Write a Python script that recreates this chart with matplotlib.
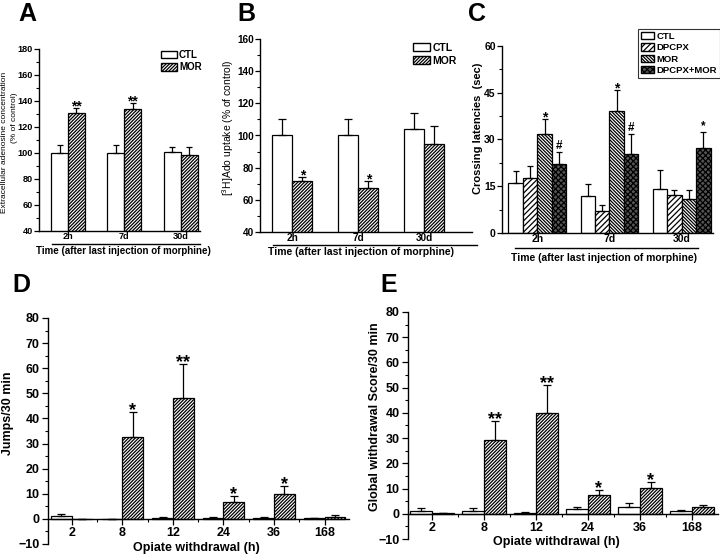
import matplotlib.pyplot as plt
import numpy as np
from matplotlib.lines import Line2D
from matplotlib.patches import Patch
from matplotlib.ticker import MultipleLocator

plt.rcParams["font.family"] = ["Liberation Sans", "DejaVu Sans"]
plt.rcParams["hatch.linewidth"] = 0.9
plt.rcParams["axes.linewidth"] = 1.0

NARROW = ["Liberation Sans Narrow", "Liberation Sans", "DejaVu Sans"]
HATCH = "/" * 10

# ---- data -------------------------------------------------------------
times = ["2h", "7d", "30d"]

# A: extracellular adenosine (% of control)
ado_ctl = [100, 100, 100.5]
ado_ctl_err = [6, 6, 4]
ado_mor = [130.5, 133.6, 98.5]
ado_mor_err = [3.9, 5.1, 6]
ado_marks = ["**", "**", ""]

# B: [3H]Ado uptake (% of control)
uptake_ctl = [100, 100, 104.3]
uptake_ctl_err = [10, 10, 9.7]
uptake_mor = [71.5, 67.5, 94.5]
uptake_mor_err = [2.5, 4.5, 11.5]
uptake_marks = ["*", "*", ""]

# C: crossing latencies (sec)
c_labels = ["CTL", "DPCPX", "MOR", "DPCPX+MOR"]
lat_ctl = [16.0, 12.0, 14.1]
lat_ctl_err = [3.9, 3.7, 6.0]
lat_dpcpx = [17.6, 7.0, 12.1]
lat_dpcpx_err = [3.9, 2.1, 1.8]
lat_mor = [31.8, 39.0, 11.0]
lat_mor_err = [4.9, 7.0, 2.9]
lat_dm = [22.1, 25.5, 27.3]
lat_dm_err = [3.8, 6.3, 5.1]
lat_mor_marks = ["*", "*", ""]
lat_dm_marks = ["#", "#", "*"]

# D/E: withdrawal
hours = ["2", "8", "12", "24", "36", "168"]
jumps_ctl = [1.1, 0.0, 0.3, 0.3, 0.3, 0.2]
jumps_ctl_err = [1.0, 0.0, 0.3, 0.3, 0.3, 0.1]
jumps_mor = [0.0, 32.7, 48.3, 6.6, 9.8, 0.9]
jumps_mor_err = [0.0, 9.9, 13.5, 2.5, 3.3, 0.5]
jumps_marks = ["", "*", "**", "*", "*", ""]

score_ctl = [1.1, 1.1, 0.5, 2.0, 2.8, 1.0]
score_ctl_err = [1.1, 1.1, 0.3, 0.7, 1.5, 0.3]
score_mor = [0.2, 29.4, 40.0, 7.4, 10.1, 2.6]
score_mor_err = [0.1, 7.3, 10.9, 1.9, 2.6, 0.8]
score_marks = ["", "**", "**", "*", "*", ""]

# ---- helpers ----------------------------------------------------------
W, H = 720, 555
fig = plt.figure(figsize=(W / 100, H / 100), dpi=100)


def add_axes_px(left, top, right, bottom):
    return fig.add_axes([left / W, 1 - bottom / H, (right - left) / W, (bottom - top) / H])


def text_px(x, y, s, **kw):
    fig.text(x / W, 1 - y / H, s, **kw)


def hline_px(x0, x1, y):
    fig.add_artist(Line2D([x0 / W, x1 / W], [1 - y / H, 1 - y / H], color="black",
                          linewidth=1.0, transform=fig.transFigure))


def bars(ax, x, vals, err, width, fc, hatch, cap):
    ax.bar(x, vals, width, color=fc, hatch=hatch, edgecolor="black", linewidth=0.9, zorder=2)
    ax.errorbar(x, vals, yerr=[np.zeros(len(err)), err], fmt="none", ecolor="black",
                elinewidth=0.9, capsize=cap, capthick=0.9, zorder=3)


def marks(ax, x, vals, err, labels, size, dy):
    for xi, yi, ei, m in zip(x, vals, err, labels):
        if m:
            ax.annotate(m, (xi, yi + ei), xytext=(0, dy), textcoords="offset points",
                        ha="center", va="bottom", fontsize=size, fontweight="bold")


def style_time_axis(ax, xlim, ylim, major, minor, fs):
    ax.set_xlim(xlim)
    ax.set_ylim(ylim)
    for s in ("top", "right"):
        ax.spines[s].set_visible(False)
    ax.set_xticks(range(len(times)))
    ax.set_xticklabels(times, family=NARROW, fontweight="bold", fontsize=fs)
    ax.tick_params(axis="x", length=0, pad=1)
    ax.yaxis.set_major_locator(MultipleLocator(major))
    ax.yaxis.set_minor_locator(MultipleLocator(minor))
    ax.tick_params(axis="y", which="major", length=3.5, width=0.9, pad=1)
    ax.tick_params(axis="y", which="minor", length=2, width=0.8)
    for t in ax.get_yticklabels():
        t.set_family(NARROW)
        t.set_fontweight("bold")
        t.set_fontsize(fs)


def legend_px(ax, handles, labels, x, y, fs, frame=False, hl=1.6):
    leg = ax.legend(handles, labels, loc="upper left", bbox_to_anchor=(x / W, 1 - y / H),
                    bbox_transform=fig.transFigure, frameon=frame,
                    handlelength=hl, handleheight=0.8, handletextpad=0.25,
                    labelspacing=0.25, borderpad=0.3 if frame else 0, borderaxespad=0,
                    prop={"family": NARROW, "weight": "bold", "size": fs})
    if frame:
        leg.get_frame().set_edgecolor("black")
        leg.get_frame().set_linewidth(0.8)
        leg.get_frame().set_boxstyle("square", pad=0)


x3 = np.arange(len(times))

# ---- A ----------------------------------------------------------------
axA = add_axes_px(39, 49, 200, 231)
bars(axA, x3 - 0.15, ado_ctl, ado_ctl_err, 0.3, "white", None, 2.2)
bars(axA, x3 + 0.15, ado_mor, ado_mor_err, 0.3, "white", HATCH, 2.2)
marks(axA, x3 + 0.15, ado_mor, ado_mor_err, ado_marks, 10, -4)
style_time_axis(axA, (-0.515, 2.343), (40, 180), 20, 10, 6.6)
legend_px(axA, [Patch(fc="white", ec="black"), Patch(fc="white", ec="black", hatch=HATCH)],
          ["CTL", "MOR"], 161, 50, 7)
hline_px(52, 200, 244)
text_px(123, 251, "Time (after last injection of morphine)", ha="center", va="center",
        fontsize=7, family=NARROW, fontweight="bold")
text_px(4.9, 142, "Extracellular adenosine concentration", rotation=90, ha="center",
        va="center", fontsize=6.0)
text_px(14.7, 118, "(% of control)", rotation=90, ha="center", va="center", fontsize=6.0)

# ---- B ----------------------------------------------------------------
axB = add_axes_px(260, 39, 472, 232)
bars(axB, x3 - 0.155, uptake_ctl, uptake_ctl_err, 0.31, "white", None, 2.6)
bars(axB, x3 + 0.155, uptake_mor, uptake_mor_err, 0.31, "white", HATCH, 2.6)
marks(axB, x3 + 0.155, uptake_mor, uptake_mor_err, uptake_marks, 10, -4)
style_time_axis(axB, (-0.485, 2.727), (40, 160), 20, 10, 7.2)
legend_px(axB, [Patch(fc="white", ec="black"), Patch(fc="white", ec="black", hatch=HATCH)],
          ["CTL", "MOR"], 413, 43, 7.5)
hline_px(273, 477, 245)
text_px(361, 252, "Time (after last injection of morphine)", ha="center", va="center",
        fontsize=7.5, family=NARROW, fontweight="bold")
text_px(228, 128, "[$^{3}$H]Ado uptake (% of control)", rotation=90, ha="center",
        va="center", fontsize=7.5)

# ---- C ----------------------------------------------------------------
axC = add_axes_px(502, 46, 713, 233)
c_styles = [("white", None), ("white", "//////"), ("white", "\\" * 10), ("#555555", "xxxxxx")]
c_vals = [(lat_ctl, lat_ctl_err), (lat_dpcpx, lat_dpcpx_err), (lat_mor, lat_mor_err),
          (lat_dm, lat_dm_err)]
bw = 0.2
for i, ((v, e), (fc, h)) in enumerate(zip(c_vals, c_styles)):
    bars(axC, x3 + (i - 1.5) * bw, v, e, bw, fc, h, 2.4)
marks(axC, x3 + 0.5 * bw, lat_mor, lat_mor_err, lat_mor_marks, 10, -4)
marks(axC, x3 + 1.5 * bw, lat_dm, lat_dm_err, lat_dm_marks, 8.5, 0)
style_time_axis(axC, (-0.489, 2.434), (0, 60), 15, 7.5, 7.5)
legend_px(axC, [Patch(fc=fc, ec="black", hatch=h) for fc, h in c_styles], c_labels,
          638, 29, 6.8, frame=True, hl=1.4)
hline_px(515, 698, 248)
text_px(604, 258, "Time (after last injection of morphine)", ha="center", va="center",
        fontsize=7.5, family=NARROW, fontweight="bold")
text_px(478, 128, "Crossing latencies  (sec)", rotation=90, ha="center", va="center",
        fontsize=8, family=NARROW, fontweight="bold")


# ---- D / E ------------------------------------------------------------
def withdrawal_panel(ax, ctl, ctl_err, mor, mor_err, labels, xlim, width):
    x = np.arange(len(hours))
    bars(ax, x - width / 2, ctl, ctl_err, width, "white", None, 3)
    bars(ax, x + width / 2, mor, mor_err, width, "white", HATCH, 3)
    marks(ax, x + width / 2, mor, mor_err, labels, 13, -5)
    ax.set_xlim(xlim)
    ax.set_ylim(-10, 80)
    ax.spines["top"].set_visible(False)
    ax.spines["right"].set_visible(False)
    ax.spines["bottom"].set_position(("data", 0))
    ax.set_xticks(x)
    ax.set_xticks(x[:-1] + 0.5, minor=True)
    ax.set_xticklabels(hours, fontweight="bold", fontsize=9)
    ax.yaxis.set_major_locator(MultipleLocator(10))
    ax.yaxis.set_minor_locator(MultipleLocator(5))
    ax.tick_params(which="major", length=4, width=0.9, pad=2)
    ax.tick_params(which="minor", length=2.5, width=0.8)
    for t in ax.get_yticklabels():
        t.set_fontweight("bold")
        t.set_fontsize(9)


axD = add_axes_px(48, 318, 349, 544)
withdrawal_panel(axD, jumps_ctl, jumps_ctl_err, jumps_mor, jumps_mor_err, jumps_marks,
                 (-0.468, 5.48), 0.41)
text_px(196, 548, "Opiate withdrawal (h)", ha="center", va="center", fontsize=9,
        fontweight="bold")
text_px(8, 413, "Jumps/30 min", rotation=90, ha="center", va="center", fontsize=9,
        fontweight="bold")

axE = add_axes_px(408, 312, 718, 539)
withdrawal_panel(axE, score_ctl, score_ctl_err, score_mor, score_mor_err, score_marks,
                 (-0.456, 5.506), 0.42)
text_px(556, 542, "Opiate withdrawal (h)", ha="center", va="center", fontsize=9,
        fontweight="bold")
text_px(375, 417, "Global withdrawal Score/30 min", rotation=90, ha="center",
        va="center", fontsize=9, fontweight="bold")

# ---- panel letters ----------------------------------------------------
for x, y, s in [(18, 21, "A"), (237, 21, "B"), (468, 21, "C"), (12, 292, "D"), (380, 292, "E")]:
    text_px(x, y, s, ha="left", va="baseline", fontsize=18, fontweight="bold")

fig.savefig("out.png", dpi=100)
